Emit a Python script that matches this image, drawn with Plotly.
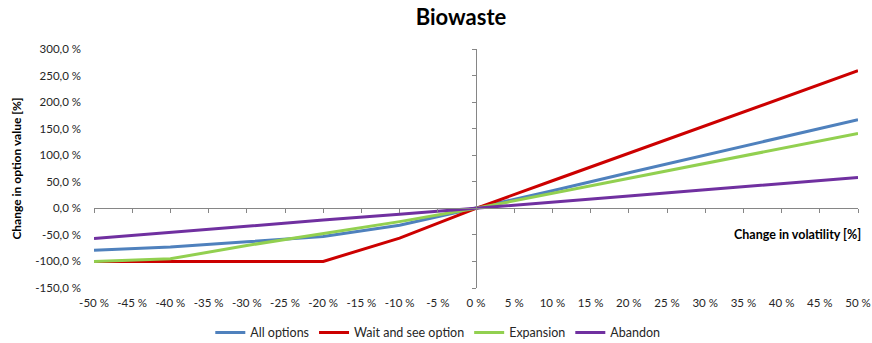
import plotly.graph_objects as go

# Change in volatility [%]
volatility = [-50, -40, -30, -20, -10, 0, 10, 20, 30, 40, 50]

# Change in option value [%] per strategy
all_options = [-79, -73, -63, -53, -32, 0, 33, 67, 100, 134, 167]
wait_and_see = [-100, -100, -100, -100, -56, 0, 52, 104, 155, 207, 259]
expansion = [-100, -95, -70, -47, -25, 0, 28, 57, 85, 113, 141]
abandon = [-57, -45, -33, -22, -11, 0, 12, 23, 35, 46, 58]

series_names = ["All options", "Wait and see option", "Expansion", "Abandon"]
series_values = [all_options, wait_and_see, expansion, abandon]
series_colors = ["#4F81BD", "#CC0000", "#92D050", "#7030A0"]

x_ticks = list(range(-50, 55, 5))
x_tick_text = [f"{v} %" for v in x_ticks]
y_ticks = list(range(-150, 350, 50))
y_tick_text = [f"{v},0 %" for v in y_ticks]

X_RANGE = [-50, 50]
Y_RANGE = [-150, 300]
AXIS_GRAY = "#868686"
FONT = "Lato, Carlito, Calibri, sans-serif"

fig = go.Figure()
for name, vals, color in zip(series_names, series_values, series_colors):
    fig.add_trace(go.Scatter(x=volatility, y=vals, mode="lines", name=name,
                             line=dict(color=color, width=3)))

# empty trace so the crossing axes at zero are drawn
fig.add_trace(go.Scatter(x=[0], y=[0], xaxis="x2", yaxis="y2", mode="markers",
                         marker=dict(size=0, opacity=0), showlegend=False,
                         hoverinfo="skip"))

zero_y_frac = (0 - Y_RANGE[0]) / (Y_RANGE[1] - Y_RANGE[0])
zero_x_frac = (0 - X_RANGE[0]) / (X_RANGE[1] - X_RANGE[0])

fig.update_layout(
    width=872, height=343,
    margin=dict(l=94, r=14, t=49, b=55, autoexpand=False),
    paper_bgcolor="white", plot_bgcolor="white",
    font=dict(family=FONT, size=11.5, color="#262626"),
    title=dict(text="<b>Biowaste</b>", x=461 / 872, xanchor="center",
               y=1 - 17 / 343, yanchor="middle",
               font=dict(family=FONT, size=22, color="#000000")),
    xaxis=dict(range=X_RANGE, tickvals=x_ticks, ticktext=x_tick_text,
               showgrid=False, zeroline=False, showline=False, ticks="",
               ticklabelstandoff=6, automargin=False),
    yaxis=dict(range=Y_RANGE, tickvals=y_ticks, ticktext=y_tick_text,
               showgrid=False, zeroline=False, showline=False, ticks="",
               ticklabelstandoff=12, automargin=False,
               title=dict(text="<b>Change in option value [%]</b>",
                          font=dict(size=12, color="#000000"), standoff=11)),
    xaxis2=dict(range=X_RANGE, overlaying="x", anchor="free",
                position=zero_y_frac, side="bottom",
                tickvals=x_ticks, showticklabels=False,
                ticks="outside", ticklen=4, tickcolor=AXIS_GRAY,
                showline=True, linecolor=AXIS_GRAY, linewidth=1,
                showgrid=False, zeroline=False, automargin=False),
    yaxis2=dict(range=Y_RANGE, overlaying="y", anchor="free",
                position=zero_x_frac, side="left",
                tickvals=y_ticks, showticklabels=False,
                ticks="outside", ticklen=4, tickcolor=AXIS_GRAY,
                showline=True, linecolor=AXIS_GRAY, linewidth=1,
                showgrid=False, zeroline=False, automargin=False),
    legend=dict(orientation="h", x=0.45, xanchor="center",
                y=-0.188, yanchor="middle", font=dict(size=12.5),
                itemwidth=30, tracegroupgap=0),
    annotations=[dict(text="<b>Change in volatility [%]</b>", x=1.007,
                      xref="paper", xanchor="right", y=-50, yref="y",
                      yanchor="middle", showarrow=False,
                      font=dict(size=12.5, color="#000000"))],
)

fig.write_html("out.html")
